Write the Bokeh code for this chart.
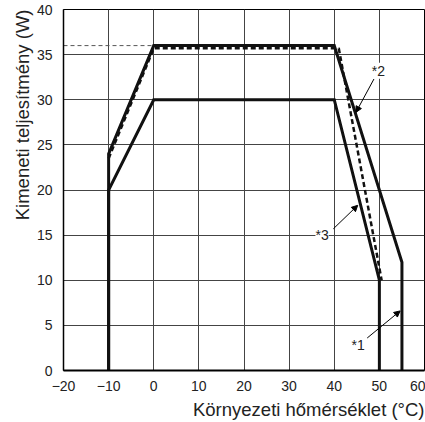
from bokeh.plotting import figure
from bokeh.models import Range1d, FixedTicker, Label, Arrow, NormalHead, Title
from bokeh.embed import file_html
from bokeh.resources import INLINE

# ---- data ----
x_ticks = [-20, -10, 0, 10, 20, 30, 40, 50, 60]
y_ticks = [0, 5, 10, 15, 20, 25, 30, 35, 40]
extra_y_tick = 36

outer_x = [-10, -10, 0, 40, 55, 55]      # *1
outer_y = [0, 24, 36, 36, 12, 0]
inner_x = [-10, -10, 0, 40, 50, 50]      # *3
inner_y = [0, 20, 30, 30, 10, 0]
dashed_x = [-10, 0, 41, 50.5]            # *2
dashed_y = [23.5, 35.7, 35.7, 10]
ref_x = [-20, 0]
ref_y = [36, 36]

labels = ["*1", "*2", "*3"]
label_x = [45.3, 49.8, 37.3]
label_y = [2.8, 33.2, 15.0]
arrow_x0 = [47.3, 48.8, 39.8]
arrow_y0 = [3.6, 32.3, 15.7]
arrow_x1 = [54.6, 44.8, 45.2]
arrow_y1 = [6.6, 28.6, 18.3]

FONT = "Liberation Sans"
TXT = "#222222"

p = figure(width=425, height=422, output_backend="svg", toolbar_location=None,
           x_range=Range1d(-20, 60), y_range=Range1d(0, 40),
           min_border_left=62, min_border_right=1, min_border_top=9, min_border_bottom=51)
p.background_fill_color = "white"
p.border_fill_color = "white"
p.outline_line_color = "black"
p.outline_line_width = 1

p.xaxis.ticker = FixedTicker(ticks=x_ticks)
p.yaxis.ticker = FixedTicker(ticks=y_ticks)
for ax in (p.xaxis, p.yaxis):
    ax.major_tick_line_color = None
    ax.minor_tick_line_color = None
    ax.major_label_text_font = FONT
    ax.major_label_text_font_size = "14px"
    ax.major_label_text_color = TXT
    ax.axis_line_color = "black"
p.xaxis.axis_line_width = 2
p.yaxis.axis_line_width = 1.5
p.xaxis.major_label_standoff = 4
p.yaxis.major_label_standoff = 5
p.xaxis.major_label_overrides = {t: ("\u2212" + str(-t) if t < 0 else str(t)) for t in x_ticks}

p.grid.grid_line_color = "#444444"
p.grid.grid_line_width = 1
p.grid.grid_line_alpha = 1.0

# reference dashed line at 36 W
p.line(ref_x, ref_y, line_color="#555555", line_width=1, line_dash="4 3")

# curves
p.line(dashed_x, dashed_y, line_color="#111111", line_width=2.5, line_dash="5 3")
p.line(outer_x, outer_y, line_color="#111111", line_width=3, line_join="miter")
p.line(inner_x, inner_y, line_color="#111111", line_width=3, line_join="miter")

# leader arrows and labels
for i in range(3):
    p.add_layout(Arrow(end=NormalHead(size=6, fill_color="black", line_color="black"),
                       x_start=arrow_x0[i], y_start=arrow_y0[i],
                       x_end=arrow_x1[i], y_end=arrow_y1[i],
                       line_color="black", line_width=1))
for i in range(3):
    p.add_layout(Label(x=label_x[i], y=label_y[i], text=labels[i],
                       text_font=FONT, text_font_size="14px", text_color=TXT,
                       text_align="center", text_baseline="middle",
                       background_fill_color="white"))

# extra y tick label "36"
p.add_layout(Label(x=-20, y=extra_y_tick, text=str(extra_y_tick), x_offset=-5, y_offset=8,
                   text_font=FONT, text_font_size="14px", text_color=TXT,
                   text_align="right", text_baseline="middle"))

# axis titles
p.add_layout(Title(text="Környezeti hőmérséklet (°C)", align="right",
                   text_font=FONT, text_font_size="18.5px", text_font_style="normal",
                   text_color=TXT, standoff=6), "below")
p.add_layout(Title(text="Kimeneti teljesítmény (W)", align="right",
                   text_font=FONT, text_font_size="18.5px", text_font_style="normal",
                   text_color=TXT, standoff=2), "left")
# thin spacer on the outer left edge
p.add_layout(Title(text=" ", text_font_size="5px", standoff=0), "left")

open("out.html", "w").write(file_html(p, INLINE))
